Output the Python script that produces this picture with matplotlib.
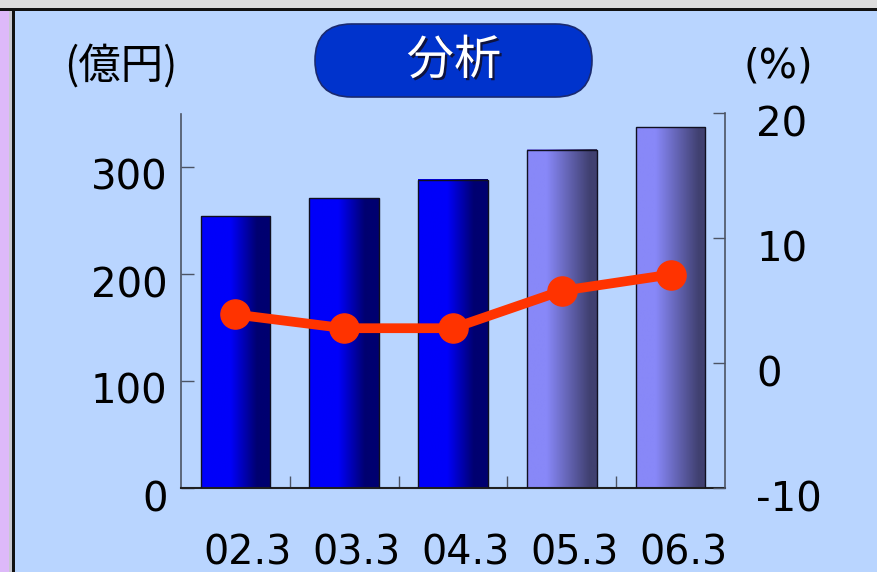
import numpy as np
import matplotlib
matplotlib.use("Agg")
import matplotlib.pyplot as plt
from matplotlib.patches import Rectangle, FancyBboxPatch
from matplotlib.transforms import ScaledTranslation
import matplotlib.patheffects as pe

# data
periods = ["02.3", "03.3", "04.3", "05.3", "06.3"]
sales = [254, 271, 288, 316, 337]          # 億円, left axis
growth = [3.9, 2.8, 2.8, 5.8, 7.1]         # %, right axis
forecast = [False, False, False, True, True]

plt.rcParams['font.family'] = ['DejaVu Sans']
plt.rcParams['axes.unicode_minus'] = False
CJK = ['Noto Sans CJK JP', 'DejaVu Sans']
W, H, DPI = 878, 572, 100
BG = '#B9D5FF'
SPINE = '#4C5464'

fig = plt.figure(figsize=(W / DPI, H / DPI), dpi=DPI)
fig.patch.set_facecolor(BG)
inch = fig.dpi_scale_trans


def box(x0, y0, x1, y1, color):
    # rectangle given in image pixels (y from top)
    fig.add_artist(Rectangle((x0 / DPI, (H - y1) / DPI), (x1 - x0) / DPI, (y1 - y0) / DPI,
                             transform=inch, facecolor=color, edgecolor='none', zorder=0))


# window frame around the chart
box(0, 0, W, 8, '#DCDCDC')
box(0, 8, W, 11, '#111111')
box(0, 11, 9, H, '#DDB9F9')
box(9, 11, 12, H, '#C8C8D0')
box(12, 11, 15, H, '#111111')

# title pill
fig.add_artist(FancyBboxPatch((315 / DPI, (H - 97) / DPI), 277 / DPI, 73 / DPI,
                              boxstyle="round,pad=0,rounding_size=0.365", transform=inch,
                              facecolor='#0033CC', edgecolor='#1A2A70', linewidth=1.2, zorder=1))
fig.text(454 / W, 1 - 61 / H, "分析", family=CJK, fontsize=34, color='white',
         ha='center', va='center', zorder=2,
         path_effects=[pe.SimplePatchShadow(offset=(1.6, -1.6), shadow_rgbFace='#101030', alpha=0.9),
                       pe.Normal()])
fig.text(121 / W, 1 - 67 / H, "(億円)", family=CJK, fontsize=30.5, color='black', ha='center', va='center')
fig.text(778 / W, 1 - 67 / H, "(%)", family=['DejaVu Sans'], fontsize=29, color='black',
         ha='center', va='center')

ax = fig.add_axes([181 / W, 1 - 488 / H, (725 - 181) / W, (488 - 113.5) / H])
ax.set_facecolor('none')
x = np.arange(len(periods))

bars = ax.bar(x, sales, width=0.64, facecolor='none', edgecolor='#101020', linewidth=1.0, zorder=3)


def gradient(c_left, c_right, a, b):
    t = np.linspace(0, 1, 256)
    f = np.clip((t - a) / (b - a), 0, 1)[:, None]
    cl = np.array(c_left) / 255.0
    cr = np.array(c_right) / 255.0
    return (cl * (1 - f) + cr * f)[None, :, :]


for rect, fc in zip(bars, forecast):
    if fc:
        img = gradient((136, 136, 248), (64, 64, 112), 0.28, 0.9)
    else:
        img = gradient((0, 0, 250), (0, 0, 112), 0.42, 0.8)
    x0 = rect.get_x()
    ax.imshow(img, extent=[x0, x0 + rect.get_width(), 0, rect.get_height()],
              aspect='auto', interpolation='bilinear', zorder=2)

ax.set_xlim(-0.5, len(periods) - 0.5)
ax.set_ylim(0, 350)
ax.set_yticks([0, 100, 200, 300])
ax.set_xticks(x)
ax.set_xticklabels(periods)
ax.set_xticks(x[:-1] + 0.5, minor=True)
ax.tick_params(axis='y', direction='in', length=9, width=1, color=SPINE, labelsize=29, pad=9.6)
ax.tick_params(axis='x', which='major', length=0, labelsize=28.5, pad=32.5)
ax.tick_params(axis='x', which='minor', direction='in', length=9, width=1, color=SPINE)
ax.spines['top'].set_visible(False)
ax.spines['right'].set_visible(False)
ax.spines['left'].set_color(SPINE)
ax.spines['bottom'].set_color('#202020')
ax.spines['left'].set_linewidth(1.2)
ax.spines['bottom'].set_linewidth(1.5)

ax2 = ax.twinx()
ax2.plot(x, growth, color='#FF3300', linewidth=7, marker='o', markersize=21, zorder=5,
         solid_capstyle='round')
ax2.set_ylim(-10, 20)
ax2.set_yticks([-10, 0, 10, 20])
ax2.tick_params(axis='y', direction='in', length=9, width=1, color=SPINE, labelsize=29, pad=22.5)
for s in ['top', 'left', 'bottom']:
    ax2.spines[s].set_visible(False)
ax2.spines['right'].set_color(SPINE)
ax2.spines['right'].set_linewidth(1.2)

# nudge tick labels the way the original chart places them
down = ScaledTranslation(0, -7.5 / DPI, inch)
for lab in ax.get_yticklabels() + ax2.get_yticklabels():
    lab.set_transform(lab.get_transform() + down)
right = ScaledTranslation(12.5 / DPI, 0, inch)
for lab in ax.get_xticklabels():
    lab.set_transform(lab.get_transform() + right)

fig.savefig("out.png", dpi=DPI, facecolor=fig.get_facecolor())
